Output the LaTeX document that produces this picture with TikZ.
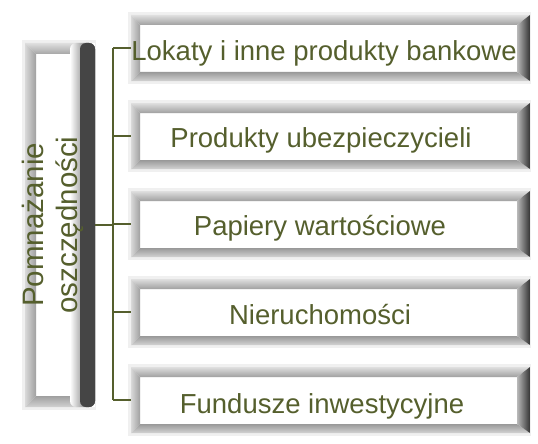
\documentclass[tikz,border=0pt]{standalone}
\usepackage{fontspec}
\setmainfont{Liberation Sans}
\definecolor{olive}{RGB}{85,95,45}
\newcommand{\bevbox}[5]{% name, x1, y1, x2, y2
  \fill[gray!12] (#2-3,#3-3) rectangle (#4+1,#5+3);
  \fill[white] (#2,#3) rectangle (#4,#5);
  \shade[top color=gray!25,bottom color=gray!75] (#2,#3) -- (#4,#3) -- (#4-13,#3+10) -- (#2+9,#3+10) -- cycle;
  \shade[left color=gray!30,right color=gray!75] (#2,#3) -- (#2+9,#3+10) -- (#2+9,#5-9) -- (#2,#5) -- cycle;
  \shade[top color=gray!80,bottom color=gray!35] (#2,#5) -- (#2+9,#5-9) -- (#4-13,#5-9) -- (#4,#5) -- cycle;
  \shade[left color=gray!55,right color=black!80] (#4,#3) -- (#4-13,#3+10) -- (#4-13,#5-9) -- (#4,#5) -- cycle;
  \node[inner sep=0pt,minimum width=#4-#2,minimum height=#5-#3] (#1) at ({(#2+#4)/2},{(#3+#5)/2}) {};
}
\tikzset{
  conn/.style={draw=olive,line width=1.6pt},
  lbl/.style={text=olive,font=\fontsize{27.5}{30}\selectfont,anchor=base,inner sep=0pt},
  vlbl/.style={text=olive,font=\fontsize{29.5}{34}\selectfont,align=center,rotate=90,inner sep=0pt}
}
\begin{document}
\begin{tikzpicture}[x=1pt,y=-1pt]
\useasboundingbox (0,0) rectangle (538,444);
\fill[white] (0,0) rectangle (538,444);
% left box
\fill[gray!12] (22,40) rectangle (96,410);
\fill[white] (25,43) rectangle (95,407);
\shade[top color=gray!25,bottom color=gray!70] (25,43) -- (80,43) -- (80,54) -- (36,54) -- cycle;
\shade[left color=gray!30,right color=gray!75] (25,43) -- (36,54) -- (36,396) -- (25,407) -- cycle;
\shade[top color=gray!75,bottom color=gray!35] (25,407) -- (36,396) -- (80,396) -- (80,407) -- cycle;
\shade[left color=white,right color=black!75,rounded corners=6pt] (70,43) -- (95,43) -- (95,407) -- (70,407) -- cycle;
\fill[black!73,rounded corners=6pt] (80,43) -- (95,43) -- (95,407) -- (80,407) -- cycle;
\node[inner sep=0pt,minimum width=70pt,minimum height=364pt] (src) at (60,225) {};
\node[vlbl] (srct) at (53,225) {Pomnażanie\\oszczędności};
% right boxes
\bevbox{b1}{131}{15}{530}{81}
\bevbox{b2}{131}{103}{530}{169}
\bevbox{b3}{131}{191}{530}{257}
\bevbox{b4}{131}{279}{530}{345}
\bevbox{b5}{131}{367}{530}{433}
\node[lbl] (t1) at (324,60) {Lokaty i inne produkty bankowe};
\node[lbl] (t2) at (321,147) {Produkty ubezpieczycieli};
\node[lbl] (t3) at (320,235) {Papiery wartościowe};
\node[lbl] (t4) at (320,324) {Nieruchomości};
\node[lbl] (t5) at (322,413) {Fundusze inwestycyjne};
% connectors
\coordinate (bus) at (113,225);
\draw[conn] (src.east) -- (bus);
\draw[conn] (bus |- b1.west) -- (bus |- b5.west);
\foreach \b in {b1,b2,b3,b4,b5}{
  \draw[conn] (bus |- \b.west) -- (\b.west);
}
\end{tikzpicture}
\end{document}
